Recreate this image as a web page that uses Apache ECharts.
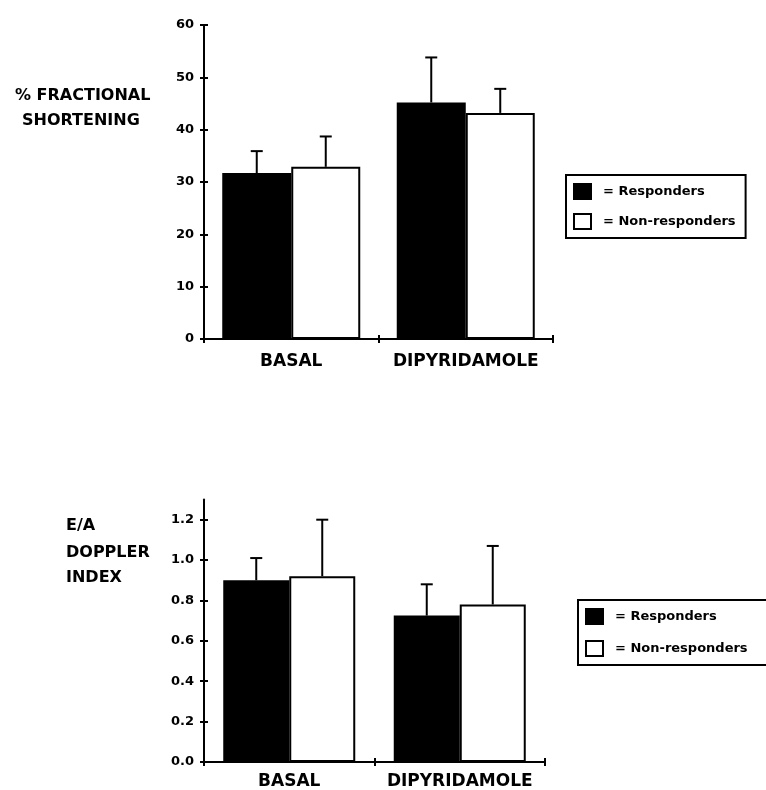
<!DOCTYPE html>
<html>
<head>
<meta charset="utf-8">
<script src="https://cdn.jsdelivr.net/npm/echarts@6/dist/echarts.min.js"></script>
<style>html,body{margin:0;padding:0;background:#fff;}#c{width:766px;height:790px;}</style>
</head>
<body>
<div id="c"></div>
<script>
const categories = ['BASAL', 'DIPYRIDAMOLE'];
// % fractional shortening (top chart)
const fsResponders = [31.7, 45.2];
const fsRespondersErrTop = [35.9, 53.8];
const fsNonResponders = [32.9, 43.2];
const fsNonRespondersErrTop = [38.7, 47.8];
const fsTicks = [0, 10, 20, 30, 40, 50, 60];
// E/A Doppler index (bottom chart)
const eaResponders = [0.90, 0.725];
const eaRespondersErrTop = [1.01, 0.88];
const eaNonResponders = [0.92, 0.78];
const eaNonRespondersErrTop = [1.20, 1.07];
const eaTicks = [0, 0.2, 0.4, 0.6, 0.8, 1.0, 1.2];

const FONT = 'DejaVu Sans';
const chart = echarts.init(document.getElementById('c'), null, {renderer: 'canvas'});

function errSeries(name, gridIdx, vals, tops, offset) {
  return {
    type: 'custom', name: name, xAxisIndex: gridIdx * 2, yAxisIndex: gridIdx * 2, z: 5,
    data: vals.map((v, i) => [i, v, tops[i]]),
    renderItem: function (params, api) {
      const p0 = api.coord([api.value(0), api.value(1)]);
      const p1 = api.coord([api.value(0), api.value(2)]);
      const cx = p0[0] + offset;
      const st = {stroke: '#000', lineWidth: 2};
      return {type: 'group', children: [
        {type: 'line', shape: {x1: cx, y1: p0[1], x2: cx, y2: p1[1]}, style: st},
        {type: 'line', shape: {x1: cx - 6, y1: p1[1], x2: cx + 6, y2: p1[1]}, style: st}
      ]};
    }
  };
}

function xAxes(gridIdx) {
  return [
    {type: 'category', gridIndex: gridIdx, data: categories,
     axisLine: {lineStyle: {color: '#000', width: 2}},
     axisTick: {show: true, length: 4, lineStyle: {color: '#000', width: 2}},
     axisLabel: {color: '#000', fontFamily: FONT, fontWeight: 'bold', fontSize: 17,
                 interval: 0, hideOverlap: false, margin: gridIdx === 0 ? 14 : 11}},
    {type: 'category', gridIndex: gridIdx, data: categories, position: 'bottom',
     axisLine: {show: false}, axisLabel: {show: false},
     axisTick: {show: true, inside: true, length: 4, lineStyle: {color: '#000', width: 2}}}
  ];
}

function yAxes(gridIdx, max, ticks, fmt) {
  return [
    {type: 'value', gridIndex: gridIdx, min: 0, max: max,
     axisLine: {show: true, lineStyle: {color: '#000', width: 2}},
     axisTick: {show: true, length: 4, customValues: ticks, lineStyle: {color: '#000', width: 2}},
     axisLabel: {color: '#000', fontFamily: FONT, fontWeight: 'bold', fontSize: 13, margin: 10,
                 customValues: ticks, formatter: fmt},
     splitLine: {show: false}},
    {type: 'value', gridIndex: gridIdx, min: 0, max: max, position: 'left',
     axisLine: {show: false}, axisLabel: {show: false}, splitLine: {show: false},
     axisTick: {show: true, inside: true, length: 4, customValues: ticks, lineStyle: {color: '#000', width: 2}}}
  ];
}

function legendAt(left, top, gap, padRight) {
  return {
    left: left, top: top, orient: 'vertical',
    data: [{name: 'Responders', icon: 'rect'}, {name: 'Non-responders', icon: 'rect'}],
    formatter: '= {name}',
    itemWidth: 17, itemHeight: 15, itemGap: gap,
    padding: [8, padRight, 8, 7],
    borderColor: '#000', borderWidth: 2, backgroundColor: '#fff',
    selectedMode: false,
    textStyle: {color: '#000', fontFamily: FONT, fontWeight: 'bold', fontSize: 13, padding: [0, 0, 0, 7]}
  };
}

const topBarW = 69, botBarW = 66;
const respStyle = {color: '#000', borderColor: '#000', borderWidth: 2};
const nonStyle = {color: '#fff', borderColor: '#000', borderWidth: 2};
const titleStyle = {fontFamily: FONT, fontSize: 16, fontWeight: 'bold', color: '#000'};

const option = {
  backgroundColor: '#fff',
  animation: false,
  title: [
    {text: '% FRACTIONAL', left: 10, top: 83, textStyle: titleStyle},
    {text: 'SHORTENING', left: 17, top: 108, textStyle: titleStyle},
    {text: 'E/A', left: 61, top: 513, textStyle: titleStyle},
    {text: 'DOPPLER', left: 61, top: 540, textStyle: titleStyle},
    {text: 'INDEX', left: 61, top: 565, textStyle: titleStyle}
  ],
  legend: [legendAt(566, 175, 13, 10), legendAt(578, 600, 15, 24)],
  grid: [
    {left: 204, top: 25, width: 349, height: 314},
    {left: 204, top: 499.5, width: 341, height: 265.5}
  ],
  xAxis: [].concat(xAxes(0), xAxes(1)),
  yAxis: [].concat(
    yAxes(0, 60, fsTicks, v => String(v)),
    yAxes(1, 1.3, eaTicks, v => v.toFixed(1))
  ),
  series: [
    {type: 'bar', name: 'Responders', xAxisIndex: 0, yAxisIndex: 0, data: fsResponders,
     barWidth: topBarW, barGap: '0%', itemStyle: respStyle},
    {type: 'bar', name: 'Non-responders', xAxisIndex: 0, yAxisIndex: 0, data: fsNonResponders,
     barWidth: topBarW, barGap: '0%', itemStyle: nonStyle},
    errSeries('fsErrR', 0, fsResponders, fsRespondersErrTop, -topBarW / 2),
    errSeries('fsErrN', 0, fsNonResponders, fsNonRespondersErrTop, topBarW / 2),
    {type: 'bar', name: 'Responders', xAxisIndex: 2, yAxisIndex: 2, data: eaResponders,
     barWidth: botBarW, barGap: '0%', itemStyle: respStyle},
    {type: 'bar', name: 'Non-responders', xAxisIndex: 2, yAxisIndex: 2, data: eaNonResponders,
     barWidth: botBarW, barGap: '0%', itemStyle: nonStyle},
    errSeries('eaErrR', 1, eaResponders, eaRespondersErrTop, -botBarW / 2),
    errSeries('eaErrN', 1, eaNonResponders, eaNonRespondersErrTop, botBarW / 2)
  ]
};
chart.setOption(option);
</script>
</body>
</html>
